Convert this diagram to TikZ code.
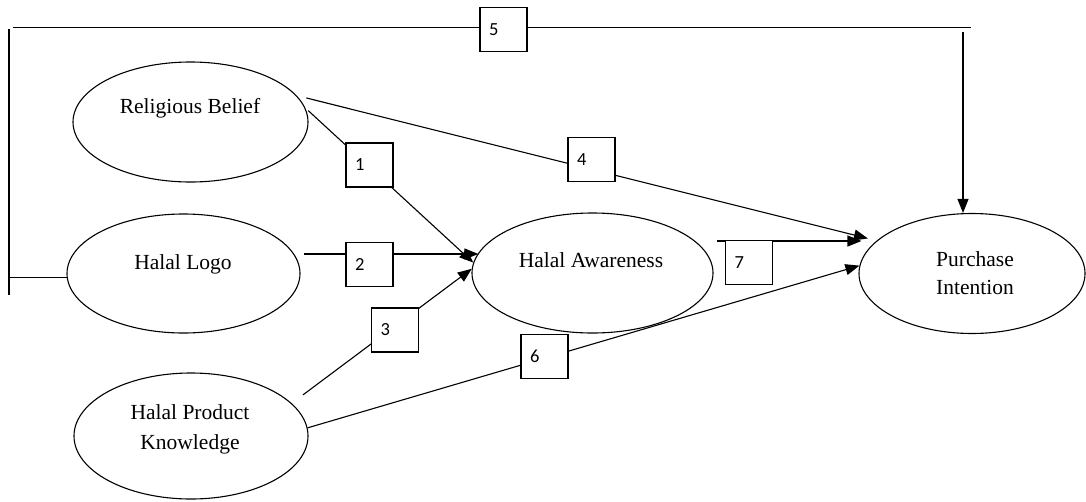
\documentclass[tikz,border=0pt]{standalone}
\usepackage{fontspec}
\setmainfont{Liberation Serif}
\newfontfamily\digitfont{Carlito}
\usetikzlibrary{shapes.geometric,arrows.meta}
\begin{document}
\begin{tikzpicture}[x=1pt,y=-1pt,
  line width=1.1pt,
  ell/.style={draw, ellipse, inner sep=0pt},
  txt/.style={font=\fontsize{21.5}{28}\selectfont, align=center, inner sep=0pt},
  numbox/.style={draw, fill=white, minimum height=44pt, text width=29pt, inner xsep=9pt, inner ysep=0pt, align=left, font=\digitfont\fontsize{18.5}{20}\selectfont},
  arr/.style={-{Triangle[length=14pt,width=11pt]}}]
\useasboundingbox (0,0) rectangle (1086,501);

% constructs
\node[ell, minimum width=235pt, minimum height=120pt] (rb) at (190.5,122) {};
\node[ell, minimum width=233pt, minimum height=119pt] (hl) at (183.5,273.5) {};
\node[ell, minimum width=234pt, minimum height=126pt] (hpk) at (191,436) {};
\node[ell, minimum width=241pt, minimum height=120pt] (ha) at (592.5,273) {};
\node[ell, minimum width=226pt, minimum height=120pt] (pi) at (972,273.5) {};

\node[txt] (rbt) at (190,108) {Religious Belief};
\node[txt] (hlt) at (183,264) {Halal Logo};
\node[txt] (hat) at (591,260) {Halal Awareness};
\node[txt] (pit) at (975,273.5) {Purchase\\Intention};
\node[txt, font=\fontsize{21.5}{30}\selectfont] (hpkt) at (190,429) {Halal Product\\Knowledge};

% helper coordinates
\coordinate (L1) at (9,29);
\coordinate (L2) at (9,295);
\coordinate (T1) at (13,27.3);
\coordinate (T2) at (971,27.3);
\coordinate (D5) at (963,32);
\coordinate (s7) at (717,241);

% connectors
\draw[arr, shorten <=4pt] (rb.7) -- (ha.175);
\draw[arr, shorten <=10pt] (hl.10) -- (hl.10 -| ha.170);
\draw[arr, shorten <=14pt] (hpk.18) -- (ha.178);
\draw[arr, shorten <=10pt, shorten >=9pt] (rb.14) -- (pi.161);
\draw[arr] (hpk.4) -- (pi.176);
\draw[arr] ([yshift=0pt]s7) -- ([xshift=3pt]s7 -| pi.west);
\draw (hl.182) -- (hl.182 -| L1);
\draw (L1) -- (L2);
\draw (T1) -- (T2);
\draw[arr] (D5) -- (D5 |- pi.north);

% path labels
\node[numbox] (b1) at (369.5,165) {1};
\node[numbox] (b2) at (369.5,264.5) {2};
\node[numbox] (b3) at (395,330) {3};
\node[numbox] (b4) at (591.5,159.5) {4};
\node[numbox] (b5) at (503.5,29.5) {5};
\node[numbox] (b6) at (544.5,356.5) {6};
\node[numbox] (b7) at (749,262.5) {7};
\end{tikzpicture}
\end{document}
